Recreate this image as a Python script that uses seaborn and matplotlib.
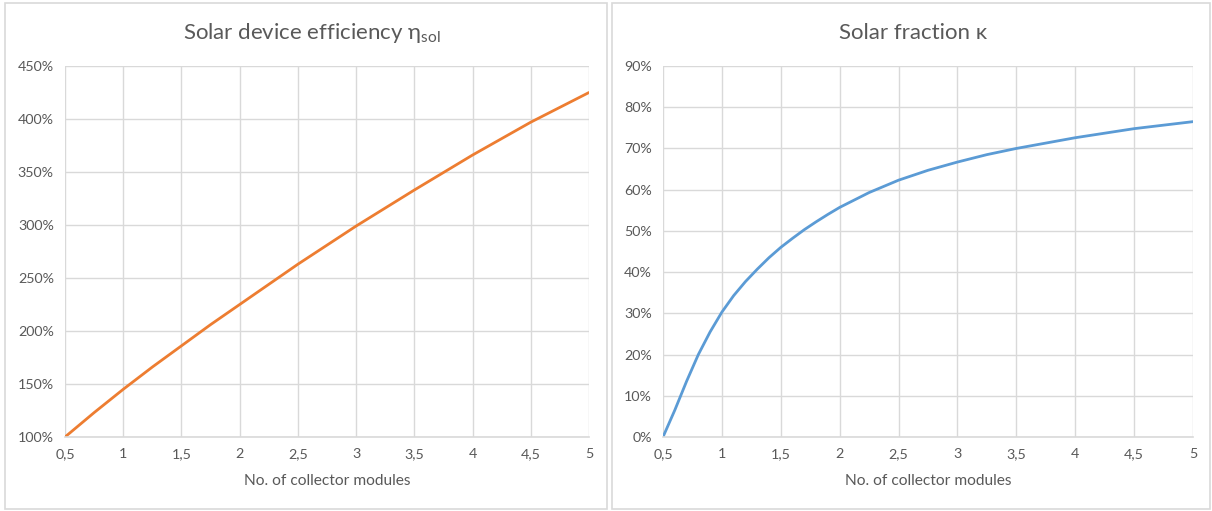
import pandas as pd
import seaborn as sns
import matplotlib.pyplot as plt
from matplotlib.patches import Rectangle
from matplotlib.ticker import FixedLocator, FuncFormatter

# collector modules (x) and read-off values (%)
modules = [0.5, 0.75, 1, 1.25, 1.5, 1.75, 2, 2.5, 3, 3.5, 4, 4.5, 5]
efficiency = [100, 123, 145, 166, 186, 206, 225, 263, 299, 333, 366, 397, 425]
modules_frac = [0.5, 0.6, 0.7, 0.8, 0.9, 1, 1.1, 1.2, 1.3, 1.4, 1.5, 1.6, 1.7, 1.8, 1.9,
                2, 2.25, 2.5, 2.75, 3, 3.25, 3.5, 4, 4.5, 5]
fraction = [0, 6.5, 13.5, 20, 25.5, 30.3, 34.3, 37.7, 40.7, 43.5, 46, 48.2, 50.3, 52.2, 54,
            55.7, 59.3, 62.3, 64.7, 66.7, 68.5, 70, 72.6, 74.8, 76.5]
x_ticks = [0.5, 1, 1.5, 2, 2.5, 3, 3.5, 4, 4.5, 5]

sns.set_style("white")
plt.rcParams['font.family'] = ['Lato', 'DejaVu Sans']
plt.rcParams['mathtext.fontset'] = 'custom'
plt.rcParams['mathtext.rm'] = 'Lato'
plt.rcParams['mathtext.it'] = 'Lato'

txt = "#595959"
grid = "#d9d9d9"

fig = plt.figure(figsize=(12.12, 5.11), dpi=100)
W, H = 1212, 511

# chart frames
for x0, x1 in [(5, 607), (612, 1210)]:
    fig.patches.append(Rectangle((x0 / W, 2 / H), (x1 - x0) / W, (508 - 2) / H,
                                 transform=fig.transFigure, fill=False,
                                 edgecolor="#d9d9d9", linewidth=1.2))

ax1 = fig.add_axes([65 / W, 1 - 437 / H, (589 - 65) / W, (437 - 66) / H])
ax2 = fig.add_axes([663 / W, 1 - 437 / H, (1193 - 663) / W, (437 - 66) / H])

df1 = pd.DataFrame({"x": modules, "y": efficiency})
df2 = pd.DataFrame({"x": modules_frac, "y": fraction})
sns.lineplot(data=df1, x="x", y="y", ax=ax1, color="#ed7d31", linewidth=2)
sns.lineplot(data=df2, x="x", y="y", ax=ax2, color="#5b9bd5", linewidth=2)

def comma(v, pos):
    s = f"{v:g}"
    return s.replace(".", ",")

for ax, lim, step in [(ax1, (100, 450), 50), (ax2, (0, 90), 10)]:
    ax.set_xlim(0.5, 5)
    ax.set_ylim(*lim)
    ax.xaxis.set_major_locator(FixedLocator(x_ticks))
    ax.xaxis.set_major_formatter(FuncFormatter(comma))
    ax.yaxis.set_major_locator(FixedLocator(list(range(lim[0], lim[1] + 1, step))))
    ax.yaxis.set_major_formatter(FuncFormatter(lambda v, p: f"{v:.0f}%"))
    ax.grid(True, color=grid, linewidth=1)
    ax.set_axisbelow(True)
    for s in ["top", "right", "left"]:
        ax.spines[s].set_visible(False)
    ax.spines["bottom"].set_color(grid)
    ax.spines["bottom"].set_linewidth(1.2)
    ax.tick_params(colors=txt, labelsize=10.3, length=0, pad=8)
    ax.set_xlabel("No. of collector modules", color=txt, fontsize=11.2, labelpad=10)
    ax.set_ylabel("")

fig.text(312 / W, 1 - 33 / H, r"Solar device efficiency η$_{\rm sol}$", ha="center",
         va="center", color=txt, fontsize=16)
fig.text(913 / W, 1 - 33 / H, "Solar fraction κ", ha="center", va="center",
         color=txt, fontsize=16)

fig.savefig("out.png", dpi=100)
